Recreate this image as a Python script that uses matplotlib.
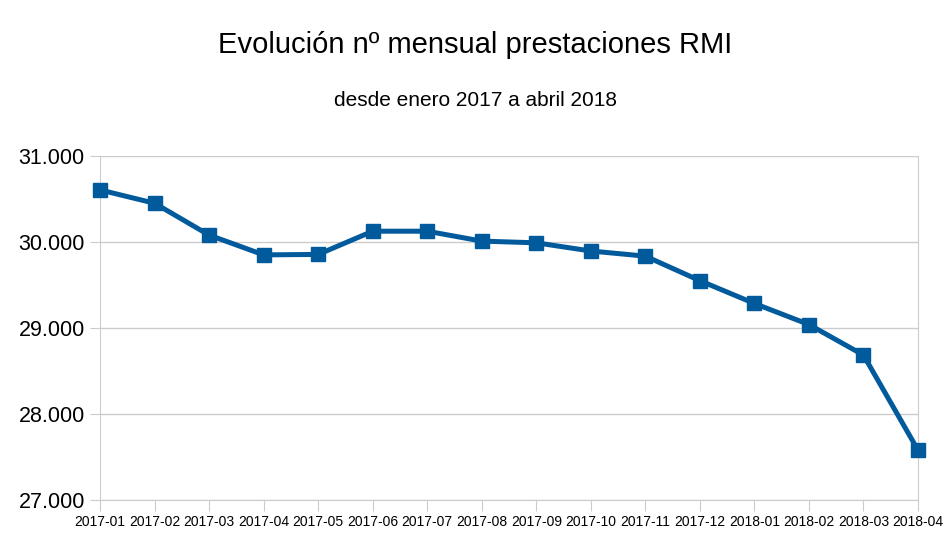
import matplotlib
matplotlib.use("Agg")
import matplotlib.pyplot as plt
from matplotlib.ticker import FuncFormatter

plt.rcParams['font.family'] = ['Liberation Sans', 'DejaVu Sans']

meses = ['2017-01', '2017-02', '2017-03', '2017-04', '2017-05', '2017-06',
         '2017-07', '2017-08', '2017-09', '2017-10', '2017-11', '2017-12',
         '2018-01', '2018-02', '2018-03', '2018-04']
prestaciones = [30605, 30450, 30080, 29850, 29855, 30125,
                30125, 30010, 29990, 29895, 29835, 29550,
                29285, 29040, 28685, 27580]

fig = plt.figure(figsize=(9.5, 5.53), dpi=100)
ax = fig.add_axes([0.1053, 0.0958, 0.8610, 0.6222])

x = range(len(meses))
ax.plot(x, prestaciones, color='#005a9b', linewidth=3.6, marker='s',
        markersize=10, solid_joinstyle='round', zorder=3, clip_on=False)

ax.set_xlim(0, len(meses) - 1)
ax.set_ylim(27000, 31000)
ax.set_yticks([27000, 28000, 29000, 30000, 31000])
ax.yaxis.set_major_formatter(FuncFormatter(lambda v, p: f'{int(v):,}'.replace(',', '.')))
ax.set_xticks(list(x))
ax.set_xticklabels(meses, fontsize=10)
ax.tick_params(axis='y', labelsize=15.5, length=7, color='#cccccc', pad=4)
ax.tick_params(axis='x', length=8, color='#cccccc', pad=3)

ax.grid(axis='y', color='#cccccc', linewidth=1)
ax.set_axisbelow(True)
for s in ['left', 'bottom', 'right']:
    ax.spines[s].set_color('#cccccc')
ax.spines['top'].set_visible(False)

fig.text(0.5, 0.918, 'Evolución nº mensual prestaciones RMI', ha='center', va='center', fontsize=21)
fig.text(0.5, 0.818, 'desde enero 2017 a abril 2018', ha='center', va='center', fontsize=15)

fig.savefig('out.png', dpi=100)
